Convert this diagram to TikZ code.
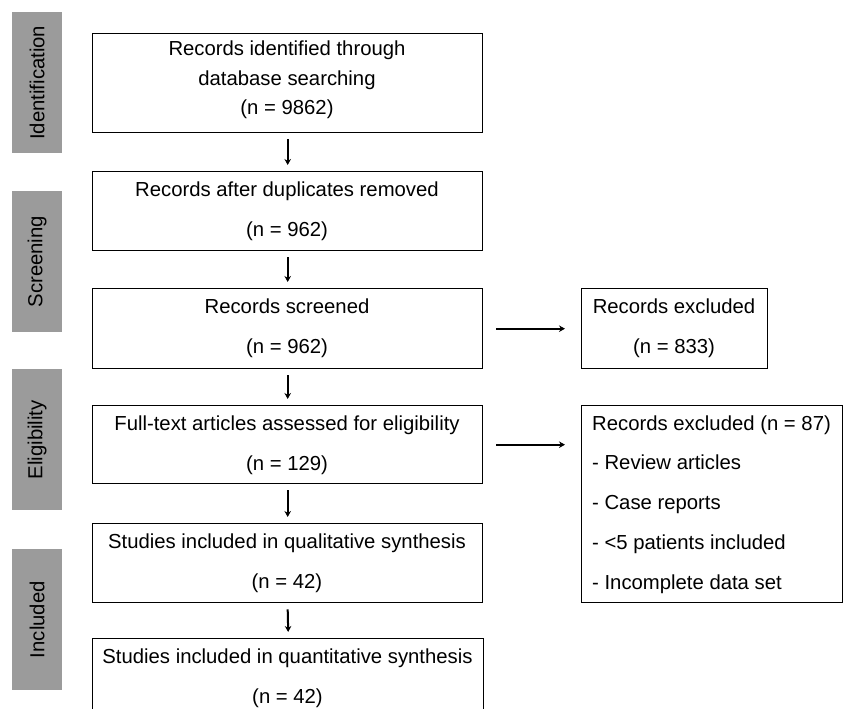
\documentclass[tikz,border=0pt]{standalone}
\usepackage{fontspec}
\setmainfont{Liberation Sans}
\usetikzlibrary{arrows.meta,calc}
\definecolor{bargray}{RGB}{155,155,155}
\begin{document}
\begin{tikzpicture}[x=1pt,y=-1pt,
  box/.style={draw=black,line width=1.4pt,rectangle,anchor=north west,inner sep=0pt},
  bar/.style={fill=bargray,draw=none,rectangle,anchor=north west,inner sep=0pt,minimum width=50pt},
  bartext/.style={rotate=90,font=\fontsize{20.3}{24}\selectfont,inner sep=0pt},
  txt/.style={font=\fontsize{20.3}{24}\selectfont,inner sep=0pt,anchor=base},
  ltxt/.style={font=\fontsize{20.3}{24}\selectfont,inner sep=0pt,anchor=base west},
  arr/.style={line width=2pt,-{Stealth[length=6pt,width=6.5pt]}}]
\useasboundingbox (0,0) rectangle (844,709);
\fill[white] (0,0) rectangle (844,709);
% side bars
\node[bar,minimum height=141pt] (s1) at (12,12) {};
\node[bar,minimum height=141pt] (s2) at (12,191) {};
\node[bar,minimum height=141pt] (s3) at (12,369) {};
\node[bar,minimum height=141pt] (s4) at (12,549) {};
\node[bartext] (s1t) at (s1.center) {Identification};
\node[bartext] (s2t) at (s2.center) {Screening};
\node[bartext] (s3t) at (s3.center) {Eligibility};
\node[bartext] (s4t) at (s4.center) {Included};
% main boxes
\node[box,minimum width=390pt,minimum height=99pt] (b1) at (92,33) {};
\node[box,minimum width=390pt,minimum height=79pt] (b2) at (92,171) {};
\node[box,minimum width=390pt,minimum height=80pt] (b3) at (92,288) {};
\node[box,minimum width=390pt,minimum height=78pt] (b4) at (92,405) {};
\node[box,minimum width=390pt,minimum height=79pt] (b5) at (92,523) {};
\node[box,minimum width=391pt,minimum height=90pt] (b6) at (92,638) {};
% right boxes
\node[box,minimum width=186pt,minimum height=80pt] (r1) at (581,288) {};
\node[box,minimum width=261pt,minimum height=197pt] (r2) at (581,405) {};
% texts
\node[txt] (t1a) at (287,56) {Records identified through};
\node[txt] (t1b) at (287,85) {database searching};
\node[txt] (t1c) at (287,114) {(n = 9862)};
\node[txt] (t2a) at (287,196) {Records after duplicates removed};
\node[txt] (t2b) at (287,236) {(n = 962)};
\node[txt] (t3a) at (287,313) {Records screened};
\node[txt] (t3b) at (287,353) {(n = 962)};
\node[txt] (t4a) at (287,430) {Full-text articles assessed for eligibility};
\node[txt] (t4b) at (287,470) {(n = 129)};
\node[txt] (t5a) at (287,548) {Studies included in qualitative synthesis};
\node[txt] (t5b) at (287,588) {(n = 42)};
\node[txt] (t6a) at (287.5,663) {Studies included in quantitative synthesis};
\node[txt] (t6b) at (287.5,703) {(n = 42)};
\node[txt] (r1a) at (674,313) {Records excluded};
\node[txt] (r1b) at (674,353) {(n = 833)};
\node[ltxt] (r2a) at (592,430) {Records excluded (n = 87)};
\node[ltxt] (r2b) at (592,469) {- Review articles};
\node[ltxt] (r2c) at (592,509) {- Case reports};
\node[ltxt] (r2d) at (592,549) {- <5 patients included};
\node[ltxt] (r2e) at (592,589) {- Incomplete data set};
% arrows
\draw[arr] ([yshift=-6pt]b1.south) -- ([yshift=6pt]b2.north);
\draw[arr] ([yshift=-6pt]b2.south) -- ([yshift=6pt]b3.north);
\draw[arr] ([yshift=-6pt]b3.south) -- ([yshift=6pt]b4.north);
\draw[arr] ([yshift=-6pt]b4.south) -- ([yshift=6pt]b5.north);
\draw[arr] ([yshift=-6pt]b5.south) -- ([yshift=6pt]b6.north);
\draw[arr] ($(b3.east)+(13,0)$) -- ($(b3.east -| r1.west)+(-16,0)$);
\draw[arr] ($(b4.east)+(13,0)$) -- ($(b4.east -| r2.west)+(-16,0)$);
\end{tikzpicture}
\end{document}
